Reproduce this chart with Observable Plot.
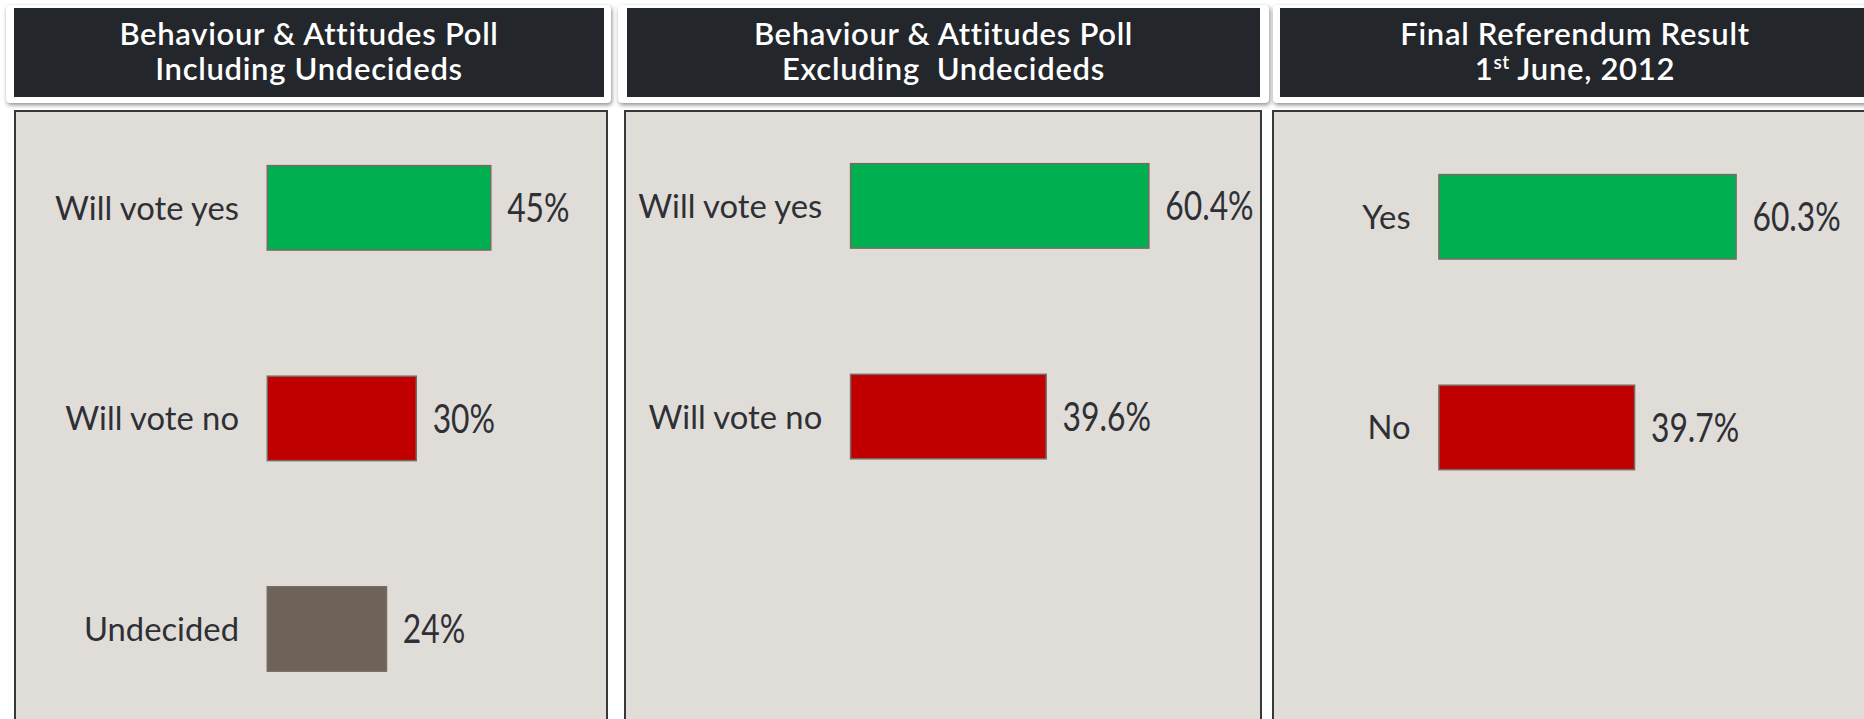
<!DOCTYPE html>
<html>
<head>
<meta charset="utf-8">
<script src="https://cdn.jsdelivr.net/npm/d3@7"></script>
<script src="https://cdn.jsdelivr.net/npm/@observablehq/plot@0.6"></script>
<style>
  html, body { margin: 0; padding: 0; background: #ffffff; }
  body { width: 1864px; height: 719px; overflow: hidden; position: relative; font-family: Lato, "Open Sans", sans-serif; }
  .card { position: absolute; background: #ffffff; border-radius: 4px; box-shadow: 1px 2px 4px rgba(0,0,0,0.45); }
  .dark { position: absolute; background: #23262b; color: #ffffff; text-align: center;
          font-family: Lato, sans-serif; font-weight: 600; font-size: 31px; line-height: 35px; letter-spacing: 0.7px;
          box-sizing: border-box; padding-top: 8px; }
  .dark sup { font-size: 19px; line-height: 0; vertical-align: 11px; letter-spacing: 0.5px; }
  .panel { position: absolute; background: #e0ddd8; border: 2px solid #36383c; box-sizing: border-box; }
  .panel svg { position: absolute; left: -2px; top: -2px; overflow: visible; }
</style>
</head>
<body>
<script>
// ---- data ----
const headerLines1 = ["Behaviour & Attitudes Poll", "Including Undecideds"];
const headerLines2 = ["Behaviour & Attitudes Poll", "Excluding\u00a0 Undecideds"];
const headerLines3 = ["Final Referendum Result", "1<sup>st</sup> June, 2012"];

const labels1 = ["Will vote yes", "Will vote no", "Undecided"];
const values1 = [45, 30, 24];
const labels2 = ["Will vote yes", "Will vote no"];
const values2 = [60.4, 39.6];
const labels3 = ["Yes", "No"];
const values3 = [60.3, 39.7];
const barColors = ["#00b050", "#c00000", "#6e6259"];

// ---- layout ----
const layout = [
  {card: [6, 5, 605, 98], dark: [14, 8, 590, 89], panel: [14, 110, 594, 640], x0: 255, ppp: 5.0, c0: 98.5, step: 212, lines: headerLines1, labels: labels1, values: values1},
  {card: [618, 5, 651, 98], dark: [627, 8, 633, 89], panel: [624, 110, 638, 640], x0: 228, ppp: 4.97, c0: 96, step: 212.5, lines: headerLines2, labels: labels2, values: values2},
  {card: [1273, 5, 620, 98], dark: [1280, 8, 590, 89], panel: [1272, 110, 620, 640], x0: 168, ppp: 4.96, c0: 107, step: 212.5, lines: headerLines3, labels: labels3, values: values3}
];

function place(el, [l, t, w, h]) {
  el.style.left = l + "px"; el.style.top = t + "px";
  el.style.width = w + "px"; el.style.height = h + "px";
}

layout.forEach((p) => {
  const card = document.createElement("div");
  card.className = "card"; place(card, p.card);
  document.body.appendChild(card);

  const dark = document.createElement("div");
  dark.className = "dark"; place(dark, p.dark);
  dark.innerHTML = p.lines.join("<br>");
  document.body.appendChild(dark);

  const panel = document.createElement("div");
  panel.className = "panel"; place(panel, p.panel);
  document.body.appendChild(panel);

  const data = p.labels.map((label, i) => ({label, value: p.values[i], color: barColors[i]}));
  const n = p.labels.length;
  const pi = 0.6, po = 0.3;
  const r0 = p.c0 - p.step * po - p.step * (1 - pi) / 2;
  const r1 = r0 + p.step * (n - pi + 2 * po);

  const chart = Plot.plot({
    width: p.panel[2],
    height: 609,
    margin: 0,
    style: {background: "transparent", overflow: "visible"},
    x: {domain: [0, 100], range: [p.x0, p.x0 + p.ppp * 100], axis: null},
    y: {type: "band", domain: p.labels, range: [r0, r1], paddingInner: pi, paddingOuter: po, axis: null},
    marks: [
      Plot.barX(data, {x: "value", y: "label", fill: "color", stroke: "#766b63", strokeWidth: 1.5}),
      Plot.text(data, {x: 0, y: "label", text: "label", textAnchor: "end", dx: -29, dy: 1,
        fill: "#2e3035", fontSize: 33, fontFamily: "Lato, sans-serif"}),
      Plot.text(data, {x: "value", y: "label", text: d => `${d.value}%`, textAnchor: "start", dx: 16, dy: 1,
        fill: "#2e3035", fontSize: 40, fontFamily: "Lato, sans-serif", className: "val"})
    ]
  });
  panel.appendChild(chart);
  // narrow the value labels horizontally, as in the original's condensed face
  chart.querySelectorAll(".val text").forEach(t => {
    const w = t.getComputedTextLength();
    t.setAttribute("textLength", (w * 0.8).toFixed(1));
    t.setAttribute("lengthAdjust", "spacingAndGlyphs");
  });
});
</script>
</body>
</html>
